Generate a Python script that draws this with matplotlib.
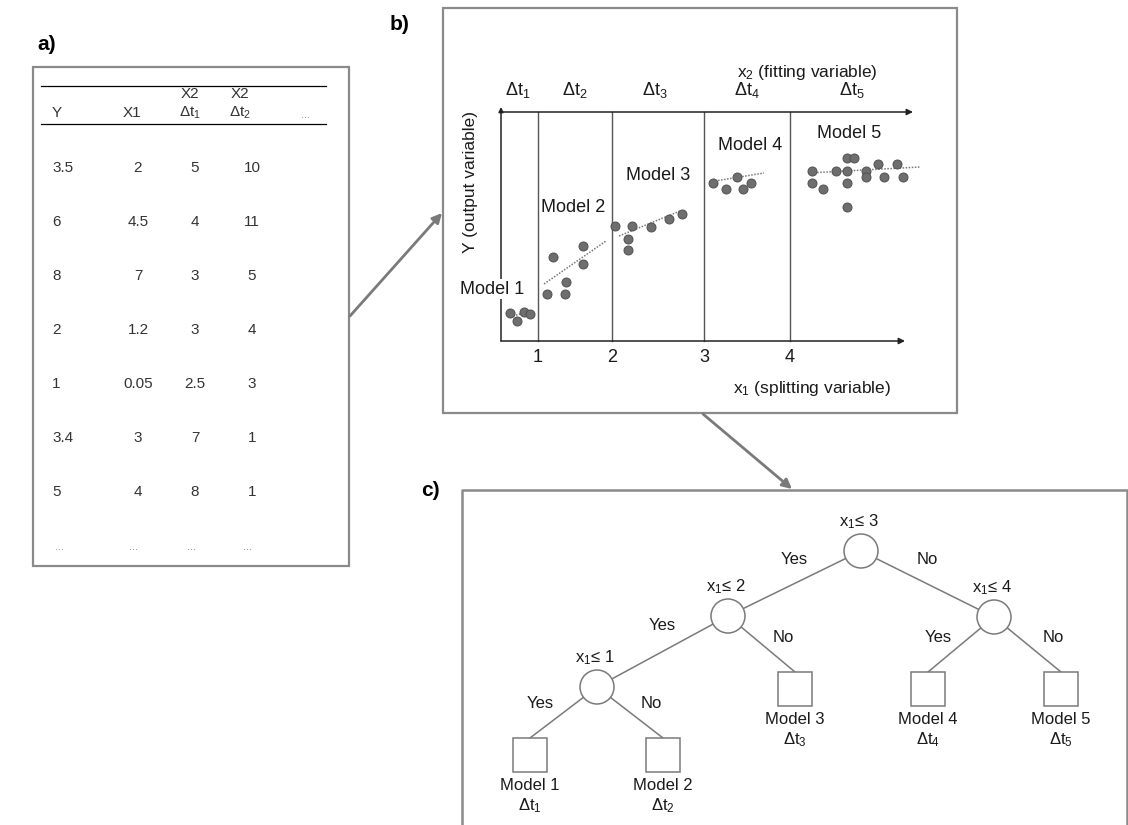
import matplotlib.pyplot as plt
from matplotlib.patches import Circle, Rectangle

plt.rcParams["font.family"] = ["Liberation Sans", "DejaVu Sans"]
plt.rcParams["mathtext.fontset"] = "custom"
plt.rcParams["mathtext.rm"] = "Liberation Sans"
plt.rcParams["mathtext.it"] = "Liberation Sans"

# table a) values
y_vals = [3.5, 6, 8, 2, 1, 3.4, 5]
x1_vals = [2, 4.5, 7, 1.2, 0.05, 3, 4]
x2_dt1 = [5, 4, 3, 3, 2.5, 7, 8]
x2_dt2 = [10, 11, 5, 4, 3, 1, 1]

# panel b) split positions and tick labels
split_x = [538, 612, 704, 790]
split_labels = ["1", "2", "3", "4"]
interval_labels = [r"$\Delta$t$_{%d}$" % i for i in range(1, 6)]
interval_x = [518, 575, 655, 747, 852]

# scatter points of each local model (panel b)
m1_x = [510, 517, 524, 530]
m1_y = [313, 321, 312, 314]
m2_x = [547, 565, 566, 553, 583, 583]
m2_y = [294, 294, 282, 257, 246, 264]
m3_x = [615, 632, 651, 628, 628, 669, 682]
m3_y = [226, 226, 227, 239, 250, 219, 214]
m4_x = [713, 726, 737, 743, 751]
m4_y = [183, 189, 177, 189, 183]
m5_x = [812, 812, 823, 836, 847, 854, 847, 847, 847, 866, 866, 878, 884, 897, 903]
m5_y = [171, 183, 189, 171, 158, 158, 171, 183, 207, 171, 177, 164, 177, 164, 177]
points = [(m1_x, m1_y), (m2_x, m2_y), (m3_x, m3_y), (m4_x, m4_y), (m5_x, m5_y)]

# fitted trend of each local model: (x0, x1), (y0, y1)
fits = [
    ((513, 528), (316, 312)),
    ((544, 606), (284, 241)),
    ((619, 680), (236, 211)),
    ((709, 764), (182, 173)),
    ((808, 920), (173, 167)),
]
model_label_pos = [(492, 289), (573, 207), (658, 176), (750, 146), (849, 133)]

# regression tree c): split nodes and leaves
nodes = {
    "n3": (861, 551, "3"),
    "n2": (728, 616, "2"),
    "n1": (597, 687, "1"),
    "n4": (994, 617, "4"),
}
leaves = {
    "L1": (530, 755, 1),
    "L2": (663, 755, 2),
    "L3": (795, 689, 3),
    "L4": (928, 689, 4),
    "L5": (1061, 689, 5),
}
edges = [
    ("n3", "n2", "Yes", (794, 559)),
    ("n3", "n4", "No", (927, 559)),
    ("n2", "n1", "Yes", (662, 625)),
    ("n2", "L3", "No", (783, 637)),
    ("n1", "L1", "Yes", (540, 703)),
    ("n1", "L2", "No", (651, 703)),
    ("n4", "L4", "Yes", (938, 637)),
    ("n4", "L5", "No", (1053, 637)),
]

BOX = "#8a8a8a"
LINE = "#7a7a7a"
TXT = "#1a1a1a"

fig = plt.figure(figsize=(11.28, 8.25), dpi=100)
ax = fig.add_axes([0, 0, 1, 1])
ax.set_xlim(0, 1128)
ax.set_ylim(825, 0)
ax.axis("off")

# panel letters
for lbl, (lx, ly) in zip(["a)", "b)", "c)"], [(47, 44), (400, 24), (430, 490)]):
    ax.text(lx, ly, lbl, fontsize=15, fontweight="bold", ha="center", va="center")

# ---- a) data table
ax.add_patch(Rectangle((33, 67), 316, 499, fill=False, ec=BOX, lw=1.6))
ax.plot([41, 326], [86, 86], color="k", lw=0.9)
ax.plot([41, 326], [124, 124], color="k", lw=0.9)
tkw = dict(fontsize=11, color="#333333", va="center")
ax.text(52, 113, "Y", ha="left", **tkw)
ax.text(132, 113, "X1", ha="center", **tkw)
ax.text(190, 94, "X2", ha="center", **tkw)
ax.text(190, 113, r"$\Delta$t$_1$", ha="center", **tkw)
ax.text(240, 94, "X2", ha="center", **tkw)
ax.text(240, 113, r"$\Delta$t$_2$", ha="center", **tkw)
ax.text(306, 115, "...", ha="center", fontsize=8, color="#888888", va="center")

row_y = [168, 222, 276, 330, 384, 438, 492]
for ry, a, b, c, d in zip(row_y, y_vals, x1_vals, x2_dt1, x2_dt2):
    ax.text(52, ry, f"{a:g}", ha="left", **tkw)
    ax.text(138, ry, f"{b:g}", ha="center", **tkw)
    ax.text(195, ry, f"{c:g}", ha="center", **tkw)
    ax.text(252, ry, f"{d:g}", ha="center", **tkw)
for ex in [59, 133, 191, 248]:
    ax.text(ex, 547, "...", ha="center", va="center", fontsize=8, color="#888888")

# arrow a) -> b)
ax.annotate("", xy=(442, 213), xytext=(350, 316),
            arrowprops=dict(arrowstyle="-|>", color=LINE, lw=2, mutation_scale=14,
                            shrinkA=0, shrinkB=0))

# ---- b) piecewise models
ax.add_patch(Rectangle((443, 8), 514, 405, fill=False, ec=BOX, lw=1.6))
x0, y_bot, y_top = 501, 341, 112
ax.annotate("", xy=(913, y_top), xytext=(x0, y_top),
            arrowprops=dict(arrowstyle="-|>", color="#222222", lw=1.1, mutation_scale=9,
                            shrinkA=0, shrinkB=0))
ax.annotate("", xy=(905, y_bot), xytext=(x0, y_bot),
            arrowprops=dict(arrowstyle="-|>", color="#222222", lw=1.1, mutation_scale=9,
                            shrinkA=0, shrinkB=0))
ax.annotate("", xy=(x0, 107), xytext=(x0, y_bot),
            arrowprops=dict(arrowstyle="-|>", color="#222222", lw=1.1, mutation_scale=7,
                            shrinkA=0, shrinkB=0))
for sx, sl in zip(split_x, split_labels):
    ax.plot([sx, sx], [y_top, y_bot], color="#555555", lw=1.0)
    ax.text(sx, 358, sl, ha="center", va="center", fontsize=13, color=TXT)
for ix, il in zip(interval_x, interval_labels):
    ax.text(ix, 90, il, ha="center", va="center", fontsize=13, color=TXT)

ax.text(812, 389, r"x$_1$ (splitting variable)", ha="center", va="center",
        fontsize=12.5, color=TXT)
ax.text(807, 72, r"x$_2$ (fitting variable)", ha="center", va="center",
        fontsize=12.5, color=TXT)
ax.text(470, 182, "Y (output variable)", ha="center", va="center", rotation=90,
        fontsize=12.5, color=TXT)

for (px, py), ((fx0, fx1), (fy0, fy1)) in zip(points, fits):
    ax.plot([fx0, fx1], [fy0, fy1], color="#777777", lw=1.1, ls=(0, (1, 1)), zorder=2)
    ax.scatter(px, py, s=42, color="#6e6e6e", edgecolors="#505050", linewidths=0.7, zorder=3)
for i, (mx, my) in enumerate(model_label_pos):
    ax.text(mx, my, f"Model {i + 1}", ha="center", va="center", fontsize=13, color=TXT,
            zorder=4, bbox=dict(fc="white", ec="none", pad=1) if i == 0 else None)

# arrow b) -> c)
ax.annotate("", xy=(792, 489), xytext=(703, 414),
            arrowprops=dict(arrowstyle="-|>", color=LINE, lw=2, mutation_scale=14,
                            shrinkA=0, shrinkB=0))

# ---- c) regression tree
ax.plot([462, 462, 1127, 1127], [825, 490, 490, 825], color=BOX, lw=1.8)
r = 17
half = 17
for a, b, lbl, (lx, ly) in edges:
    ax1, ay1 = nodes[a][:2]
    if b in nodes:
        bx, by = nodes[b][:2]
    else:
        bx, by = leaves[b][0], leaves[b][1] - half
    ax.plot([ax1, bx], [ay1, by], color=LINE, lw=1.1, zorder=1)
    ax.text(lx, ly, lbl, ha="center", va="center", fontsize=12, color=TXT)
for key, (cx, cy, thr) in nodes.items():
    ax.add_patch(Circle((cx, cy), r, fc="white", ec=LINE, lw=1.1, zorder=2))
    ax.text(cx - 2, cy - 29, r"x$_1$≤ " + thr, ha="center", va="center", fontsize=12,
            color=TXT)
for key, (sx, sy, k) in leaves.items():
    ax.add_patch(Rectangle((sx - half, sy - half), 2 * half, 2 * half, fc="white",
                           ec=LINE, lw=1.1, zorder=2))
    ax.text(sx, sy + 31, f"Model {k}", ha="center", va="center", fontsize=12, color=TXT)
    ax.text(sx, sy + 51, r"$\Delta$t$_{%d}$" % k, ha="center", va="center", fontsize=12,
            color=TXT)

fig.savefig("out.png", dpi=100)
